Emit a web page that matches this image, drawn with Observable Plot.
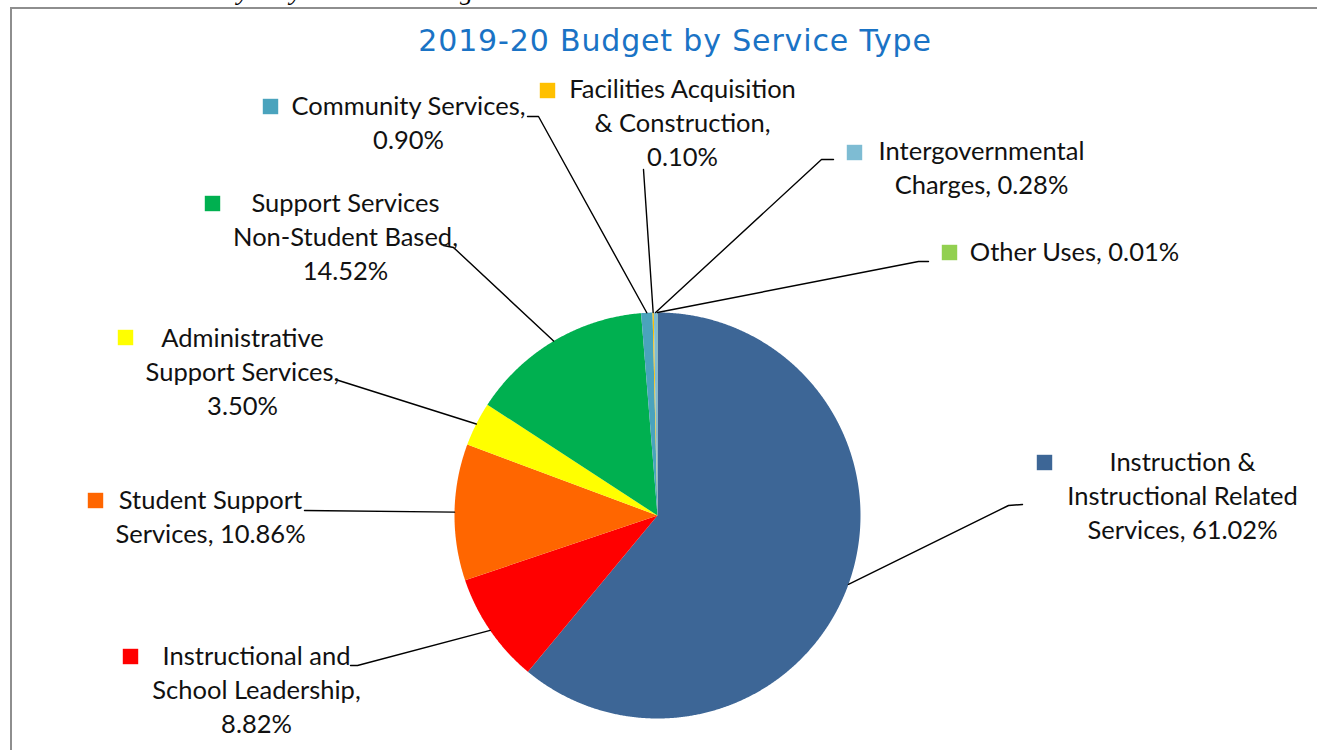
<!DOCTYPE html>
<html>
<head>
<meta charset="utf-8">
<script src="https://cdn.jsdelivr.net/npm/d3@7"></script>
<script src="https://cdn.jsdelivr.net/npm/@observablehq/plot@0.6"></script>
<style>
  html, body { margin: 0; padding: 0; background: #fff; overflow: hidden; }
  #wrap { position: relative; width: 1317px; height: 750px; overflow: hidden; background: #fff; }
  #frame { position: absolute; left: 10px; top: 7px; width: 1400px; height: 800px; border-top: 2px solid #8e8e8e; border-left: 2px solid #8e8e8e; box-sizing: border-box; }
  #note { position: absolute; left: 72px; top: -21px; line-height: 26px; font-family: "Liberation Serif", serif; font-style: italic; font-size: 26px; color: #000; white-space: nowrap; }
  #title { position: absolute; left: 675px; top: 23px; transform: translateX(-50%); font-family: "DejaVu Sans", sans-serif; font-size: 30px; letter-spacing: 0.85px; color: #1a73c5; white-space: nowrap; }
  #chart { position: absolute; left: 0; top: 0; }
</style>
</head>
<body>
<div id="wrap">
  <div id="note">Note: Totals may vary due to rounding.</div>
  <div id="frame"></div>
  <div id="chart"></div>
  <div id="title">2019-20 Budget by Service Type</div>
</div>
<script>
// ---- data ----
const categories = [
  "Instruction & Instructional Related Services",
  "Instructional and School Leadership",
  "Student Support Services",
  "Administrative Support Services",
  "Support Services Non-Student Based",
  "Community Services",
  "Facilities Acquisition & Construction",
  "Intergovernmental Charges",
  "Other Uses"
];
const shares = [61.02, 8.82, 10.86, 3.50, 14.52, 0.90, 0.10, 0.28, 0.01];
const labelText = [
  "Instruction &\nInstructional Related\nServices, ",
  "Instructional and\nSchool Leadership,\n",
  "Student Support\nServices, ",
  "Administrative\nSupport Services,\n",
  "Support Services\nNon-Student Based,\n",
  "Community Services,\n",
  "Facilities Acquisition\n& Construction,\n",
  "Intergovernmental\nCharges, ",
  "Other Uses, "
];
const colors = ["#3d6696", "#ff0000", "#ff6600", "#ffff00", "#00b050", "#4aa3bd", "#ffc000", "#7ebcd3", "#92d050"];

// ---- layout (pie in radius units; center/radius in pixels) ----
const W = 1317, H = 750, CX = 657, CY = 515, R = 203;
const px = v => (v - CX) / R, py = v => (CY - v) / R;
// label block center, marker center, leader end, leader elbow (pixel layout)
const labelLayout = [
  {tx: 1182, ty: 497, mx: 1044, my: 462, ex: 1022, ey: 504, bx: 1008, by: 505},
  {tx: 256,  ty: 691, mx: 130,  my: 656, ex: 350,  ey: 665, bx: 357,  by: 665},
  {tx: 210,  ty: 518, mx: 95,   my: 500, ex: 304,  ey: 510, bx: 304,  by: 510},
  {tx: 242,  ty: 373, mx: 125,  my: 337, ex: 335,  ey: 379, bx: 335,  by: 379},
  {tx: 345,  ty: 238, mx: 212,  my: 203, ex: 443,  ey: 245, bx: 453,  by: 247},
  {tx: 408,  ty: 124, mx: 270,  my: 106, ex: 527,  ey: 116, bx: 538,  by: 116},
  {tx: 682,  ty: 124, mx: 547,  my: 90,  ex: 643,  ey: 169, bx: 643,  by: 169},
  {tx: 981,  ty: 169, mx: 854,  my: 152, ex: 833,  ey: 159, bx: 821,  by: 159},
  {tx: 1074, ty: 253, mx: 949,  my: 252, ex: 928,  ey: 261, bx: 918,  by: 261}
];

const arcs = d3.pie().sort(null).value(d => d)(shares);

const slicePts = [];
arcs.forEach((a, i) => {
  const n = Math.max(2, Math.ceil((a.endAngle - a.startAngle) / 0.005));
  slicePts.push({name: categories[i], x: 0, y: 0});
  for (let k = 0; k <= n; k++) {
    const t = a.startAngle + (a.endAngle - a.startAngle) * k / n;
    slicePts.push({name: categories[i], x: Math.sin(t), y: Math.cos(t)});
  }
});

const leaderPts = [];
const labels = [];
arcs.forEach((a, i) => {
  const L = labelLayout[i];
  const mid = (a.startAngle + a.endAngle) / 2;
  leaderPts.push({name: categories[i], x: Math.sin(mid), y: Math.cos(mid)});
  leaderPts.push({name: categories[i], x: px(L.bx), y: py(L.by)});
  leaderPts.push({name: categories[i], x: px(L.ex), y: py(L.ey)});
  labels.push({
    name: categories[i],
    text: labelText[i] + shares[i].toFixed(2) + "%",
    tx: px(L.tx), ty: py(L.ty), mx: px(L.mx), my: py(L.my)
  });
});

const FS = 25.5;
const chart = Plot.plot({
  width: W, height: H,
  margin: 0,
  x: {domain: [px(0), px(W)], axis: null},
  y: {domain: [py(H), py(0)], axis: null},
  color: {domain: categories, range: colors},
  marks: [
    Plot.line(slicePts, {x: "x", y: "y", z: "name", fill: "name", stroke: null, curve: "linear-closed"}),
    Plot.line(leaderPts, {x: "x", y: "y", z: "name", stroke: "#000", strokeWidth: 1.4, curve: "linear"}),
    Plot.dot(labels, {x: "mx", y: "my", symbol: "square", fill: "name", r: 8.7, stroke: null}),
    Plot.text(labels, {x: "tx", y: "ty", dy: -3, text: "text", fontSize: FS, lineHeight: 34 / FS, textAnchor: "middle", fill: "#111", fontFamily: "Lato, sans-serif"})
  ],
  style: {background: "transparent", overflow: "visible"}
});
document.getElementById("chart").appendChild(chart);
</script>
</body>
</html>
